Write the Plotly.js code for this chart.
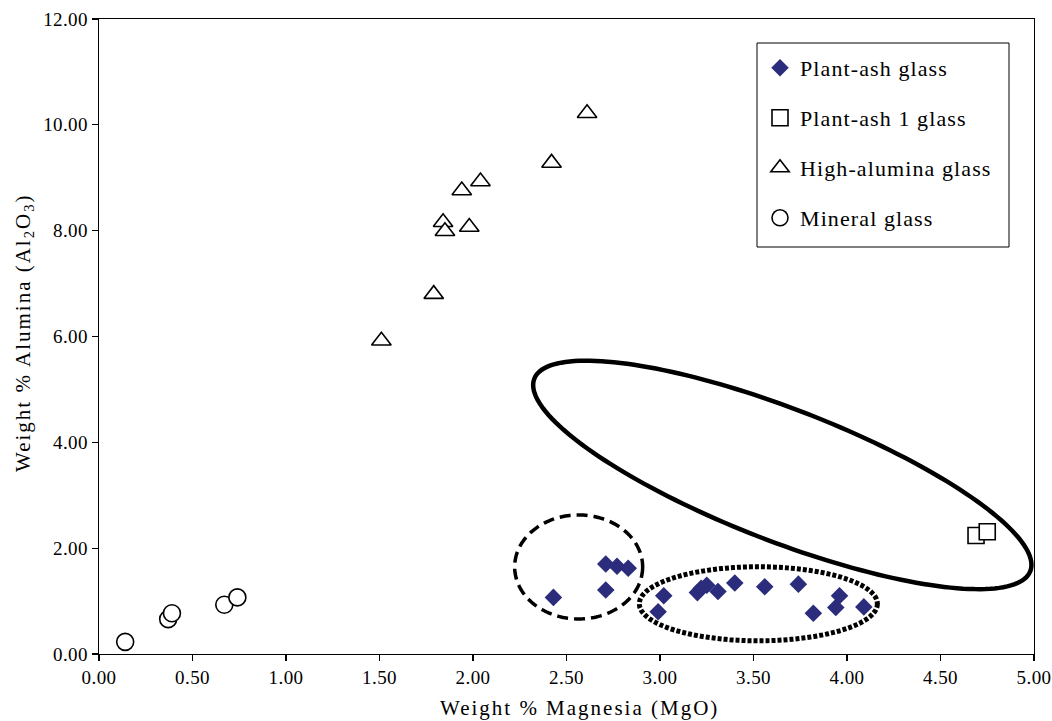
<!DOCTYPE html>
<html>
<head>
<meta charset="utf-8">
<script src="https://cdn.plot.ly/plotly-3.0.1.min.js"></script>
<style>
html,body{margin:0;padding:0;background:#fff;}
.annotation-text.wide-title{letter-spacing:2px;}
.legendtext{letter-spacing:1.1px;}
.xtick text,.ytick text{letter-spacing:0.4px;}
</style>
</head>
<body>
<div id="chart" style="width:1052px;height:721px;"></div>
<script>
// ---- Data ----
const seriesNames = ["Plant-ash glass", "Plant-ash 1 glass", "High-alumina glass", "Mineral glass"];

const plantAshMgO = [2.43, 2.71, 2.77, 2.83, 2.71, 3.02, 2.99, 3.20, 3.22, 3.25, 3.31, 3.40, 3.56, 3.74, 3.82, 3.94, 3.96, 4.09];
const plantAshAl  = [1.07, 1.70, 1.66, 1.62, 1.21, 1.10, 0.80, 1.16, 1.24, 1.30, 1.18, 1.34, 1.27, 1.32, 0.77, 0.88, 1.10, 0.89];

const plantAsh1MgO = [4.69, 4.75];
const plantAsh1Al  = [2.24, 2.31];

const highAlMgO = [1.51, 1.79, 1.84, 1.85, 1.98, 1.94, 2.04, 2.42, 2.61];
const highAlAl  = [5.92, 6.80, 8.16, 7.99, 8.07, 8.76, 8.93, 9.28, 10.22];

const mineralMgO = [0.14, 0.37, 0.39, 0.67, 0.74];
const mineralAl  = [0.23, 0.66, 0.77, 0.93, 1.07];

const xTickVals = [0, 0.5, 1, 1.5, 2, 2.5, 3, 3.5, 4, 4.5, 5];
const yTickVals = [0, 2, 4, 6, 8, 10, 12];

const xTitle = "Weight % Magnesia (MgO)";
const yTitle = "Weight % Alumina (Al<sub>2</sub>O<sub>3</sub>)";

// ---- Group outlines (drawn annotations): centre in data units, semi-axes in px, tilt in degrees ----
const pxPerX = 187, pxPerY = 52.9;
const outlines = [
  {cx: 3.654, cy: 3.384, a: 266, b: 66, tilt: 21.2, dash: "solid", width: 4.5},
  {cx: 2.565, cy: 1.645, a: 64, b: 52, tilt: 0, dash: "11px,6px", width: 3.5},
  {cx: 3.526, cy: 0.949, a: 119, b: 37, tilt: 0, dash: "4px,2px", width: 5}
];
function ellipsePath(o) {
  const phi = o.tilt * Math.PI / 180;
  const pts = [];
  for (let i = 0; i <= 180; i++) {
    const t = i / 180 * 2 * Math.PI;
    const dx = o.a * Math.cos(phi) * Math.cos(t) - o.b * Math.sin(phi) * Math.sin(t);
    const dy = o.a * Math.sin(phi) * Math.cos(t) + o.b * Math.cos(phi) * Math.sin(t);
    pts.push((o.cx + dx / pxPerX).toFixed(4) + "," + (o.cy - dy / pxPerY).toFixed(4));
  }
  return "M" + pts.join("L") + "Z";
}

const serif = "Liberation Serif, Times New Roman, serif";
// plot area in px: left 99, right 1034, top 19, bottom 654
const PL = 99, PW = 935, PB = 654, PH = 635;
const px2x = p => (p - PL) / PW;
const px2y = p => (PB - p) / PH;

const traces = [
  {x: plantAshMgO, y: plantAshAl, name: seriesNames[0], legendgroup: "a",
   mode: "markers", type: "scatter",
   marker: {symbol: "diamond", size: 13.5, color: "#2b2c7b", line: {width: 0}}},
  {x: plantAsh1MgO, y: plantAsh1Al, name: seriesNames[1], legendgroup: "b",
   mode: "markers", type: "scatter",
   marker: {symbol: "square", size: 16, color: "#ffffff", line: {width: 1.6, color: "#000"}}},
  {x: highAlMgO, y: highAlAl, name: seriesNames[2], legendgroup: "c",
   mode: "markers", type: "scatter",
   marker: {symbol: "triangle-up", size: 17, color: "#ffffff", line: {width: 1.6, color: "#000"}}},
  {x: mineralMgO, y: mineralAl, name: seriesNames[3], legendgroup: "d",
   mode: "markers", type: "scatter",
   marker: {symbol: "circle", size: 17, color: "#ffffff", line: {width: 1.6, color: "#000"}}}
];

const shapes = outlines.map(o => ({
  type: "path", xref: "x", yref: "y", layer: "below",
  path: ellipsePath(o),
  line: {color: "#000", width: o.width, dash: o.dash},
  fillcolor: "rgba(0,0,0,0)"
}));
// legend frame
shapes.push({type: "rect", xref: "paper", yref: "paper", layer: "above",
  x0: px2x(757), x1: px2x(1009), y0: px2y(247), y1: px2y(43),
  line: {color: "#000", width: 1}, fillcolor: "rgba(0,0,0,0)"});

const layout = {
  width: 1052, height: 721,
  margin: {l: PL, r: 1052 - PL - PW, t: PB - PH, b: 721 - PB},
  paper_bgcolor: "#fff", plot_bgcolor: "#fff",
  font: {family: serif, color: "#000", size: 16},
  showlegend: true,
  legend: {
    x: px2x(760), y: px2y(47), xanchor: "left", yanchor: "top",
    borderwidth: 0, bgcolor: "rgba(0,0,0,0)",
    font: {family: serif, size: 22, color: "#000"},
    traceorder: "grouped", tracegroupgap: 18.4
  },
  xaxis: {
    range: [0, 5], tickvals: xTickVals, tickformat: ".2f",
    showline: true, linecolor: "#000", linewidth: 1.3, mirror: true,
    ticks: "outside", ticklen: 6, tickcolor: "#000", tickwidth: 1.3,
    showgrid: false, zeroline: false,
    tickfont: {family: serif, size: 19, color: "#000"}
  },
  yaxis: {
    range: [0, 12], tickvals: yTickVals, tickformat: ".2f",
    showline: true, linecolor: "#000", linewidth: 1.3, mirror: true,
    ticks: "outside", ticklen: 6, tickcolor: "#000", tickwidth: 1.3,
    showgrid: false, zeroline: false,
    tickfont: {family: serif, size: 19, color: "#000"}
  },
  annotations: [
    {text: xTitle, xref: "paper", yref: "paper", x: px2x(579), y: px2y(720.5),
     xanchor: "center", yanchor: "bottom", showarrow: false, borderpad: 0,
     font: {family: serif, size: 21, color: "#000"}},
    {text: yTitle, xref: "paper", yref: "paper", x: px2x(24), y: px2y(333),
     xanchor: "center", yanchor: "middle", showarrow: false, textangle: -90,
     font: {family: serif, size: 21, color: "#000"}}
  ],
  shapes: shapes
};

Plotly.newPlot("chart", traces, layout, {displayModeBar: false, staticPlot: true}).then(gd => {
  document.querySelectorAll(".annotation-text").forEach(el => el.classList.add("wide-title"));
});
</script>
</body>
</html>
